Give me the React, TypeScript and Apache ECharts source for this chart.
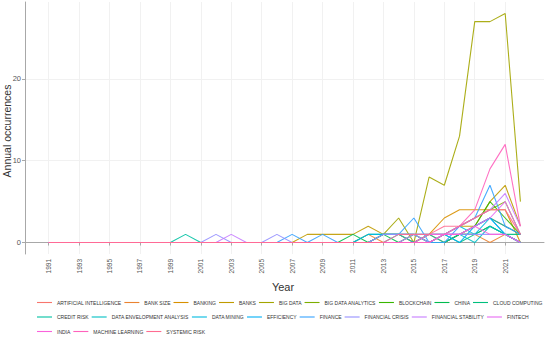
import React, { useEffect, useRef } from "react";
import * as echarts from "echarts";

const years = [
  1991, 1992, 1993, 1994, 1995, 1996, 1997, 1998, 1999, 2000, 2001, 2002, 2003, 2004, 2005, 2006,
  2007, 2008, 2009, 2010, 2011, 2012, 2013, 2014, 2015, 2016, 2017, 2018, 2019, 2020, 2021, 2022,
];

const xTickYears = [1991, 1993, 1995, 1997, 1999, 2001, 2003, 2005, 2007, 2009, 2011, 2013, 2015, 2017, 2019, 2021];
const yTicks = [0, 10, 20];

const keywords = [
  "ARTIFICIAL INTELLIGENCE", "BANK SIZE", "BANKING", "BANKS", "BIG DATA", "BIG DATA ANALYTICS",
  "BLOCKCHAIN", "CHINA", "CLOUD COMPUTING", "CREDIT RISK", "DATA ENVELOPMENT ANALYSIS", "DATA MINING",
  "EFFICIENCY", "FINANCE", "FINANCIAL CRISIS", "FINANCIAL STABILITY", "FINTECH", "INDIA",
  "MACHINE LEARNING", "SYSTEMIC RISK",
];

const artificialIntelligence = [0,0,0,0,0,0,0,0, 0,0,0,0,0,0,0,0,0,0,0,0,0,0,0,0,0,0,0,1,2,3,2,1];
const bankSize =               [0,0,0,0,0,0,0,0, 0,0,0,0,0,0,0,0,0,0,0,0,0,1,0,0,0,1,0,1,1,0,1,0];
const banking =                [0,0,0,0,0,0,0,0, 0,0,0,0,0,0,0,0,0,0,0,0,0,0,1,1,0,1,3,4,4,4,4,0];
const banks =                  [0,0,0,0,0,0,0,0, 0,0,0,0,0,0,0,0,0,1,1,1,1,2,1,1,0,1,1,2,2,5,7,2];
const bigData =                [0,0,0,0,0,0,0,0, 0,0,0,0,0,0,0,0,0,0,0,0,0,0,1,3,0,8,7,13,27,27,28,5];
const bigDataAnalytics =       [0,0,0,0,0,0,0,0, 0,0,0,0,0,0,0,0,0,0,0,0,0,0,0,0,1,0,1,2,3,4,5,1];
const blockchain =             [0,0,0,0,0,0,0,0, 0,0,0,0,0,0,0,0,0,0,0,0,0,0,0,0,0,0,0,1,2,5,3,1];
const china =                  [0,0,0,0,0,0,0,0, 0,0,0,0,0,0,0,0,0,0,0,0,1,0,1,0,0,0,0,1,1,2,1,0];
const cloudComputing =         [0,0,0,0,0,0,0,0, 0,0,0,0,0,0,0,0,0,0,0,0,0,0,0,0,1,0,1,0,1,2,1,1];
const creditRisk =             [0,0,0,0,0,0,0,0, 0,1,0,0,0,0,0,0,0,0,0,0,0,1,1,1,1,1,0,1,2,3,2,1];
const dataEnvelopment =        [0,0,0,0,0,0,0,0, 0,0,0,0,0,0,0,0,0,0,0,0,0,0,0,1,1,0,1,1,0,2,1,0];
const dataMining =             [0,0,0,0,0,0,0,0, 0,0,0,0,0,0,0,0,0,0,0,0,0,1,1,1,0,1,1,2,1,3,1,0];
const efficiency =             [0,0,0,0,0,0,0,0, 0,0,0,0,0,0,0,0,0,0,0,0,0,0,0,0,0,0,1,0,2,3,1,0];
const finance =                [0,0,0,0,0,0,0,0, 0,0,0,0,0,0,0,0,1,0,1,0,0,0,1,1,3,0,0,2,3,7,2,1];
const financialCrisis =        [0,0,0,0,0,0,0,0, 0,0,0,1,0,0,0,1,0,0,0,0,0,0,1,1,1,1,1,1,1,1,1,0];
const financialStability =     [0,0,0,0,0,0,0,0, 0,0,0,0,1,0,0,0,0,0,0,0,0,0,0,0,1,0,1,2,3,4,6,2];
const fintech =                [0,0,0,0,0,0,0,0, 0,0,0,0,0,0,0,0,0,0,0,0,0,0,0,0,0,0,1,1,2,3,5,1];
const india =                  [0,0,0,0,0,0,0,0, 0,0,0,0,0,0,0,0,0,0,0,0,0,0,0,0,0,1,1,1,2,1,1,0];
const machineLearning =        [0,0,0,0,0,0,0,0, 0,0,0,0,0,0,0,0,0,0,0,0,0,0,0,0,0,0,1,2,4,9,12,2];
const systemicRisk =           [0,0,0,0,0,0,0,0, 0,0,0,0,0,0,0,0,0,0,0,0,0,0,0,1,1,1,2,2,3,4,4,1];

const seriesValues = [
  artificialIntelligence, bankSize, banking, banks, bigData, bigDataAnalytics, blockchain, china,
  cloudComputing, creditRisk, dataEnvelopment, dataMining, efficiency, finance, financialCrisis,
  financialStability, fintech, india, machineLearning, systemicRisk,
];

const colors = [
  "#F8766D", "#EA8331", "#D89000", "#C09B00", "#A3A500", "#7CAE00", "#39B600", "#00BB4E",
  "#00BF7D", "#00C1A3", "#00BFC4", "#00BAE0", "#00B0F6", "#35A2FF", "#9590FF", "#C77CFF",
  "#E76BF3", "#FA62DB", "#FF62BC", "#FF6C91",
];

const legendRow1 = keywords.slice(0, 9);
const legendRow2 = keywords.slice(9, 17);
const legendRow3 = keywords.slice(17);

export default function App() {
  const ref = useRef<HTMLDivElement>(null);
  useEffect(() => {
    if (!ref.current) return;
    const chart = echarts.init(ref.current, null, { renderer: "svg" });
    const font = "Liberation Sans, Arial, sans-serif";
    const legendBase = {
      left: 37,
      orient: "horizontal",
      width: 1000,
      icon: "rect",
      itemWidth: 15,
      itemHeight: 1.1,
      itemGap: 3,
      padding: 0,
      textStyle: { fontSize: 5, color: "#333", fontFamily: font },
    };
    chart.setOption({
      animation: false,
      color: colors,
      grid: { left: 25, right: 6, top: 2, bottom: 83, containLabel: false },
      xAxis: {
        type: "value",
        min: 1989.45,
        max: 2023.55,
        axisLine: { show: true, lineStyle: { color: "#a8a8a8", width: 1 } },
        axisTick: { show: true, customValues: xTickYears, length: 3, lineStyle: { color: "#a8a8a8" } },
        axisLabel: {
          customValues: xTickYears,
          rotate: 90,
          fontSize: 6.5,
          color: "#555",
          margin: 5,
          fontFamily: font,
          formatter: (v: number) => String(v),
        },
        splitLine: { show: true, lineStyle: { color: "#f1f1f1", width: 1 } },
      },
      yAxis: {
        type: "value",
        min: -1.4,
        max: 29.4,
        axisLine: { show: true, lineStyle: { color: "#a8a8a8", width: 1 } },
        axisTick: { show: true, customValues: yTicks, length: 3, lineStyle: { color: "#a8a8a8" } },
        axisLabel: { customValues: yTicks, fontSize: 7.5, color: "#555", margin: 4, fontFamily: font },
        splitLine: { show: true, lineStyle: { color: "#f1f1f1", width: 1 } },
      },
      legend: [
        { ...legendBase, top: 300, data: legendRow1 },
        { ...legendBase, top: 314.5, data: legendRow2 },
        { ...legendBase, top: 329, data: legendRow3 },
      ],
      graphic: [
        {
          type: "text",
          x: 283,
          y: 287,
          style: { text: "Year", fontSize: 11, fill: "#333", fontFamily: font, textAlign: "center", textVerticalAlign: "middle" },
        },
        {
          type: "text",
          x: 7,
          y: 131,
          rotation: Math.PI / 2,
          style: { text: "Annual occurrences", fontSize: 10.5, fill: "#333", fontFamily: font, textAlign: "center", textVerticalAlign: "middle" },
        },
      ],
      series: keywords.map((name, i) => ({
        name,
        type: "line",
        symbol: "none",
        data: years.map((y, j) => [y, seriesValues[i][j]]),
        lineStyle: { width: 1.1, opacity: 0.9 },
        emphasis: { disabled: true },
      })),
    });
    return () => chart.dispose();
  }, []);
  return <div ref={ref} style={{ width: 550, height: 337, position: "absolute", left: 0, top: 0 }} />;
}
